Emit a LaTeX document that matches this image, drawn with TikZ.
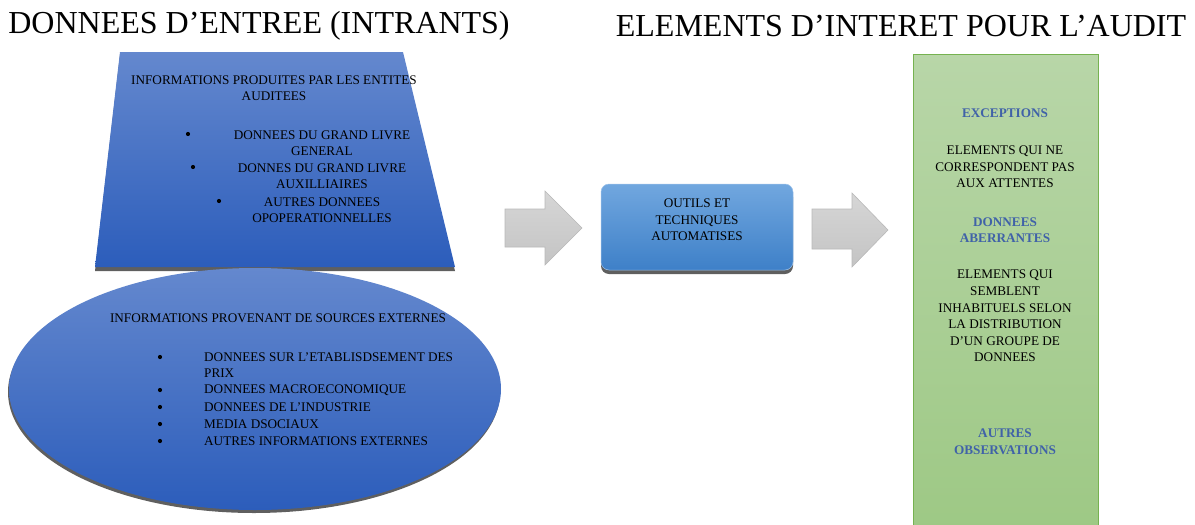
\documentclass[tikz,border=0pt]{standalone}
\usepackage{fontspec}
\setmainfont{Liberation Serif}
\definecolor{blueTop}{RGB}{100,136,206}
\definecolor{blueBot}{RGB}{44,93,187}
\definecolor{boxTop}{RGB}{113,167,223}
\definecolor{boxBot}{RGB}{62,128,200}
\definecolor{greenTop}{RGB}{184,214,168}
\definecolor{greenBot}{RGB}{157,200,132}
\definecolor{greenEdge}{RGB}{118,178,80}
\definecolor{headBlue}{RGB}{64,98,168}
\definecolor{shadowGrey}{RGB}{95,95,95}
\definecolor{arrowTop}{RGB}{214,214,214}
\definecolor{arrowBot}{RGB}{196,196,196}
\definecolor{arrowEdge}{RGB}{185,185,185}
\begin{document}
\begin{tikzpicture}[x=1pt,y=-1pt,
  title/.style={font=\fontsize{32}{36}\selectfont, inner sep=0pt},
  body/.style={font=\fontsize{13.2}{16.6}\selectfont, inner sep=0pt, align=center},
  bodyleft/.style={font=\fontsize{13.2}{16.6}\selectfont, inner sep=0pt, align=left, anchor=west},
  bul/.style={circle, fill=black, inner sep=0pt, minimum size=4.2pt},
  head/.style={font=\fontsize{13.2}{16.6}\selectfont\bfseries, text=headBlue, inner sep=0pt, align=center},
  blockarrow/.style={top color=arrowTop, bottom color=arrowBot, draw=arrowEdge, line width=0.6pt},
]
\clip (0,0) rectangle (1195,525);

% titles
\node[title] (tin) at (259,26) {DONNEES D’ENTREE (INTRANTS)};
\node[title] (tout) at (901,26) {ELEMENTS D’INTERET POUR L’AUDIT};

% internal information: trapezoid with shadow
\fill[shadowGrey] (120,55) -- (403,55) -- (455,271) -- (95,271) -- cycle;
\shade[top color=blueTop, bottom color=blueBot] (120,52) -- (403,52) -- (455,267) -- (95,267) -- cycle;

% external information: ellipse with shadow
\fill[shadowGrey] (254,392) ellipse [x radius=246, y radius=121];
\shade[top color=blueTop, bottom color=blueBot] (255,389) ellipse [x radius=246, y radius=121];

% tools box with shadow
\fill[shadowGrey, rounded corners=8pt] (601,189) rectangle (793,274);
\shade[top color=boxTop, bottom color=boxBot, rounded corners=8pt] (601,184) rectangle (793,270);
\draw[boxTop!70!white, line width=0.5pt, rounded corners=8pt] (601,184) rectangle (793,270);

% block arrows
\draw[blockarrow] (505,209) -- (545,209) -- (545,191) -- (582,228) -- (545,265) -- (545,247) -- (505,247) -- cycle;
\draw[blockarrow] (812,209) -- (852,209) -- (852,193) -- (888,230) -- (852,267) -- (852,249) -- (812,249) -- cycle;

% audit findings column
\shade[top color=greenTop, bottom color=greenBot] (913,54) rectangle (1098,540);
\draw[greenEdge, line width=0.8pt] (913,540) -- (913,54) -- (1098,54) -- (1098,540);

% trapezoid text
\node[body] (int) at (274,88) {INFORMATIONS PRODUITES PAR LES ENTITES\\AUDITEES};
\node[bul] (ib1) at (188,134) {};
\node[body] (it1) at (322,143) {DONNEES DU GRAND LIVRE\\GENERAL};
\node[bul] (ib2) at (193,167) {};
\node[body] (it2) at (322,176) {DONNES DU GRAND LIVRE\\AUXILLIAIRES};
\node[bul] (ib3) at (219,201) {};
\node[body] (it3) at (322,210) {AUTRES DONNEES\\OPOPERATIONNELLES};

% ellipse text
\node[body] (ext) at (278,318) {INFORMATIONS PROVENANT DE SOURCES EXTERNES};
\node[bul] (eb1) at (160,357) {};
\node[bodyleft] (et1) at (204,365) {DONNEES SUR L’ETABLISDSEMENT DES\\PRIX};
\node[bul] (eb2) at (160,390) {};
\node[bodyleft] (et2) at (204,390) {DONNEES MACROECONOMIQUE};
\node[bul] (eb3) at (160,407) {};
\node[bodyleft] (et3) at (204,407) {DONNEES DE L’INDUSTRIE};
\node[bul] (eb4) at (160,424) {};
\node[bodyleft] (et4) at (204,424) {MEDIA DSOCIAUX};
\node[bul] (eb5) at (160,441) {};
\node[bodyleft] (et5) at (204,441) {AUTRES INFORMATIONS EXTERNES};

% tools text
\node[body] (tools) at (697,220) {OUTILS ET\\TECHNIQUES\\AUTOMATISES};

% findings text
\node[head] (h1) at (1005,113) {EXCEPTIONS};
\node[body] (d1) at (1005,167) {ELEMENTS QUI NE\\CORRESPONDENT PAS\\AUX ATTENTES};
\node[head] (h2) at (1005,230) {DONNEES\\ABERRANTES};
\node[body] (d2) at (1005,316) {ELEMENTS QUI\\SEMBLENT\\INHABITUELS SELON\\LA DISTRIBUTION\\D’UN GROUPE DE\\DONNEES};
\node[head] (h3) at (1005,442) {AUTRES\\OBSERVATIONS};
\end{tikzpicture}
\end{document}
